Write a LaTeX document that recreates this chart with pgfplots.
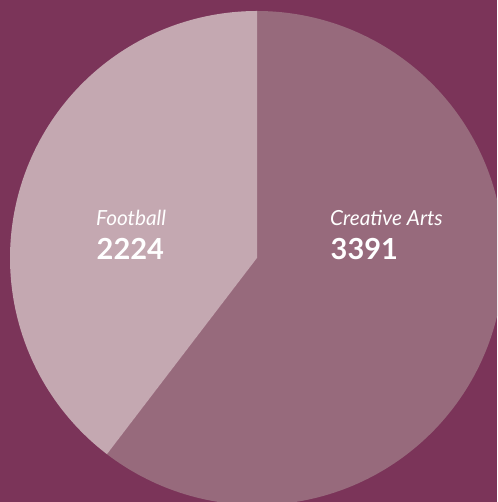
\documentclass[border=0pt]{standalone}
\usepackage{pgfplots}
\pgfplotsset{compat=1.18}
\usepackage{fontspec}
\setmainfont{Lato}

\definecolor{bgpurple}{HTML}{7B3459}
\definecolor{caslice}{HTML}{976A7C}
\definecolor{fbslice}{HTML}{C4A8B1}

% slice values
\def\valCA{3391}
\def\valFB{2224}

\begin{document}
\begin{tikzpicture}
\pgfmathsetmacro\total{\valCA+\valFB}
\pgfmathsetmacro\angCA{\valCA/\total*360}
\pgfmathsetmacro\splitang{90-\angCA}
\begin{axis}[
    scale only axis,
    width=497pt, height=502pt,
    xmin=0, xmax=497, ymin=0, ymax=502,
    hide axis,
    clip=true,
]
% background
\addplot[fill=bgpurple, draw=none] coordinates {(0,0) (497,0) (497,502) (0,502)} -- cycle;
% Creative Arts
\addplot[fill=caslice, draw=none, domain=\splitang:90, samples=181, variable=\t]
    ({257+247*cos(\t)}, {244+247*sin(\t)}) -- (axis cs:257,244) -- cycle;
% Football
\addplot[fill=fbslice, draw=none, domain=-270:\splitang, samples=181, variable=\t]
    ({257+247*cos(\t)}, {244+247*sin(\t)}) -- (axis cs:257,244) -- cycle;

\node[anchor=base west, inner sep=0, text=white, font=\fontsize{20.8}{24}\selectfont\itshape] at (axis cs:96,276) {Football};
\node[anchor=base west, inner sep=0, text=white, font=\fontsize{29}{33}\selectfont\bfseries] at (axis cs:96.5,242) {2224};
\node[anchor=base west, inner sep=0, text=white, font=\fontsize{20.8}{24}\selectfont\itshape] at (axis cs:330,276) {Creative Arts};
\node[anchor=base west, inner sep=0, text=white, font=\fontsize{29}{33}\selectfont\bfseries] at (axis cs:330.5,242) {3391};
\end{axis}
\pgfresetboundingbox
\path (current axis.south west) rectangle (current axis.north east);
\end{tikzpicture}
\end{document}
